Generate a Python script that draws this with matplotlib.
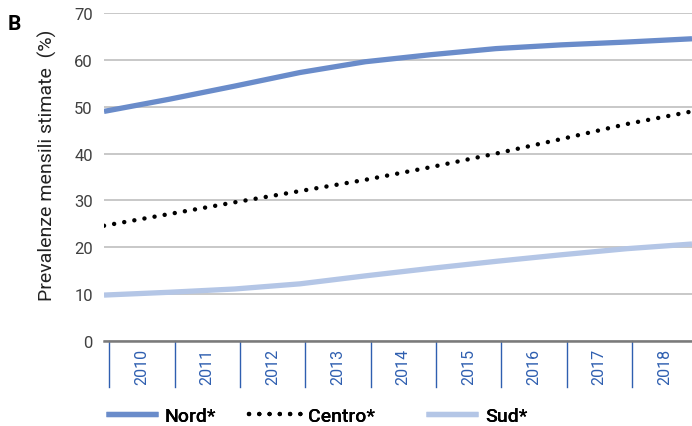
import matplotlib
matplotlib.use("Agg")
import matplotlib.pyplot as plt
import numpy as np

plt.rcParams['font.family'] = ['Roboto', 'DejaVu Sans']

# valori (inizio di ogni anno + fine 2018)
years = ["2010", "2011", "2012", "2013", "2014", "2015", "2016", "2017", "2018"]
pos = [0, 1, 2, 3, 4, 5, 6, 7, 8, 9]
nord = [49.0, 51.6, 54.4, 57.3, 59.6, 61.1, 62.4, 63.2, 63.8, 64.5]
centro = [24.6, 27.1, 29.6, 32.0, 34.4, 37.1, 40.0, 43.1, 46.3, 49.0]
sud = [9.8, 10.4, 11.1, 12.2, 13.9, 15.5, 17.0, 18.4, 19.7, 20.7]

c_nord = "#6a8cca"
c_sud = "#b4c6e6"
c_tick = "#2f5fb0"

# la griglia delle categorie e' spostata rispetto all'inizio dei dati
offset = 0.08

fig = plt.figure(figsize=(6.92, 4.27), dpi=100)
ax = fig.add_axes([104/692, 85/427, 1 - 104/692, 328/427])

ax.plot(pos, nord, color=c_nord, lw=3.8, solid_capstyle='butt', label="Nord*")
ax.plot(pos, centro, color="black", lw=3.2, linestyle=(0, (0.01, 2.3)),
        dash_capstyle='round', label="Centro*")
ax.plot(pos, sud, color=c_sud, lw=3.8, solid_capstyle='butt', label="Sud*")

ax.set_xlim(0, 9.0)
ax.set_ylim(0, 70)
ax.set_yticks(range(0, 71, 10))
ax.yaxis.grid(True, color="#bfbfbf", lw=1.2)
ax.set_axisbelow(True)
for s in ["top", "right", "left"]:
    ax.spines[s].set_visible(False)
ax.spines["bottom"].set_color("#7a7a7a")
ax.spines["bottom"].set_linewidth(1.8)
ax.tick_params(axis='y', length=0, pad=8, labelsize=12, labelcolor="#404040")

# etichette delle categorie (anni) e separatori
ax.set_xticks([])
trans = ax.get_xaxis_transform()
for i, y in enumerate(years):
    ax.plot([i + offset, i + offset], [0, -46/328], transform=trans,
            color=c_tick, lw=1.0, clip_on=False)
    ax.text(i + offset + 0.5, -25/328, y, transform=trans, rotation=90,
            ha='center', va='center', fontsize=11.5, color=c_tick)

ax.set_ylabel("Prevalenze mensili stimate  (%)", fontsize=14, color="#222222")
ax.yaxis.set_label_coords(-0.08, 0.54)

fig.text(8/692, 1 - 24/427, "B", fontsize=15, fontweight='bold',
         va='center', ha='left')

# legenda
handles, labels = ax.get_legend_handles_labels()
leg_x = [88, 231, 408]
for h, l, x in zip(handles, labels, leg_x):
    lg = fig.legend([h], [l], loc='center left',
                    bbox_to_anchor=(x/692, 1 - 417/427), frameon=False,
                    handlelength=2.7, handletextpad=0.36,
                    prop={'weight': 'medium', 'size': 14})
    fig.add_artist(lg)

fig.savefig("out.png", dpi=100)
